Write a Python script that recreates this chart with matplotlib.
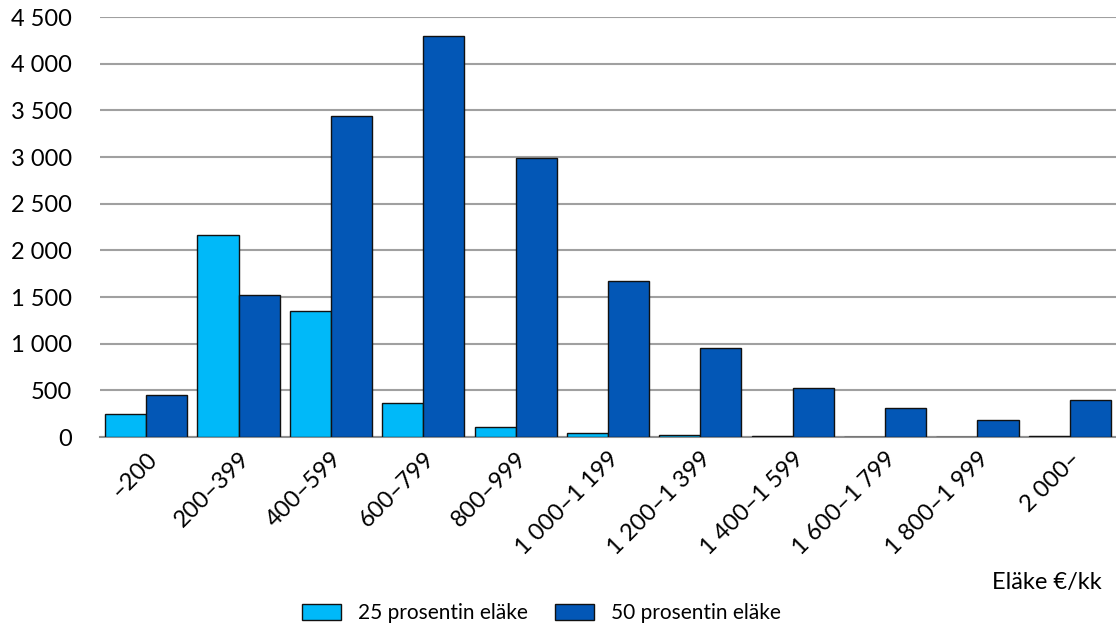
import numpy as np
import matplotlib
matplotlib.use("Agg")
import matplotlib.pyplot as plt

plt.rcParams['font.family'] = ['Lato', 'DejaVu Sans']

categories = ['–200', '200–399', '400–599', '600–799', '800–999', '1 000–1 199',
              '1 200–1 399', '1 400–1 599', '1 600–1 799', '1 800–1 999', '2 000–']
pension_25 = [245, 2160, 1350, 365, 110, 45, 20, 8, 5, 5, 8]
pension_50 = [445, 1525, 3440, 4300, 2985, 1670, 950, 530, 315, 185, 395]
yticks = [0, 500, 1000, 1500, 2000, 2500, 3000, 3500, 4000, 4500]
ytick_labels = ['0', '500', '1 000', '1 500', '2 000', '2 500', '3 000', '3 500', '4 000', '4 500']

light = '#00B9F9'
dark = '#0357B6'

fig = plt.figure(figsize=(11.16, 6.32), dpi=100)
ax = fig.add_axes([0.0896, 0.3085, 0.9104, 0.6646])

x = np.arange(len(categories))
w = 0.445
ax.bar(x - w / 2, pension_25, width=w, color=light, edgecolor='#111111', linewidth=1,
       label='25 prosentin eläke', zorder=3)
ax.bar(x + w / 2, pension_50, width=w, color=dark, edgecolor='#111111', linewidth=1,
       label='50 prosentin eläke', zorder=3)

ax.set_xlim(-0.5, len(categories) - 0.5)
ax.set_ylim(0, 4500)
ax.set_yticks(yticks)
ax.set_yticklabels(ytick_labels, fontsize=17)
ax.set_xticks(x)
ax.set_xticklabels(categories, rotation=45, ha='right', rotation_mode='anchor', fontsize=17)
ax.tick_params(axis='both', length=0)
ax.tick_params(axis='y', pad=20)
ax.tick_params(axis='x', pad=8)

ax.yaxis.grid(True, color='#a0a0a0', linewidth=1.5, zorder=0)
ax.set_axisbelow(True)
for s in ['left', 'right', 'top']:
    ax.spines[s].set_visible(False)
ax.spines['bottom'].set_color('#909090')
ax.spines['bottom'].set_linewidth(1.5)

fig.text(0.987, 0.079, 'Eläke €/kk', ha='right', va='center', fontsize=17)

leg = fig.legend(loc='center', bbox_to_anchor=(0.485, 0.03), ncol=2, frameon=False,
                 fontsize=15, handlelength=1.9, handleheight=0.8, columnspacing=1.3,
                 handletextpad=0.8)

fig.savefig('out.png', dpi=100)
